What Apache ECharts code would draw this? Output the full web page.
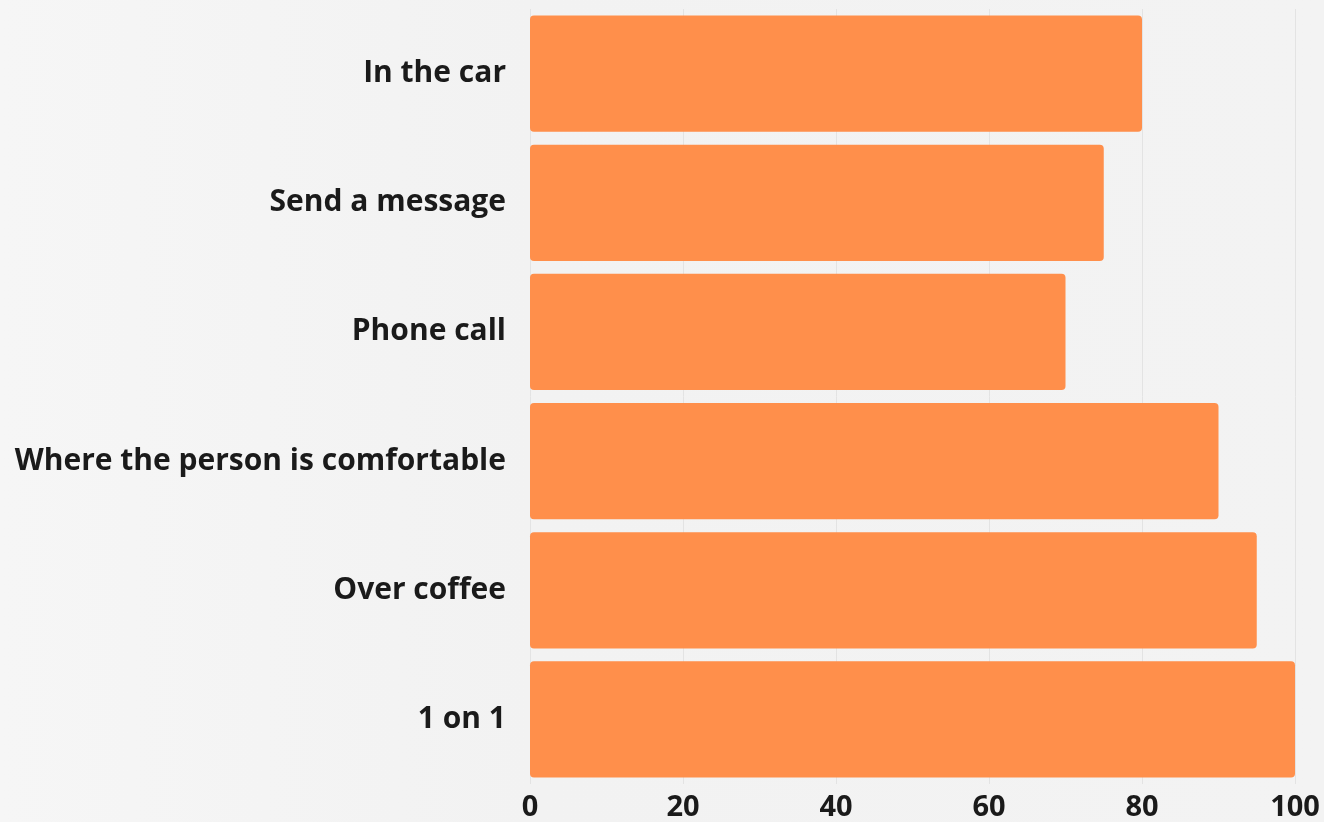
<!DOCTYPE html>
<html><head><meta charset="utf-8">
<script src="https://cdn.jsdelivr.net/npm/echarts@6/dist/echarts.min.js"></script>
<style>html,body{margin:0;padding:0;}#c{width:1324px;height:822px;background:linear-gradient(90deg,#f6f6f6 0%,#f2f2f2 40%,#f3f3f3 100%);}</style>
</head><body><div id="c"></div>
<script>
const categories = ["1 on 1","Over coffee","Where the person is comfortable","Phone call","Send a message","In the car"];
const values = [100,95,90,70,75,80];
const xTicks = [0,20,40,60,80,100];
const chart = echarts.init(document.getElementById('c'));
chart.setOption({
  backgroundColor: 'transparent',
  grid: {left: 530, right: 29, top: 9, bottom: 38, containLabel: false},
  xAxis: {type: 'value', min: xTicks[0], max: xTicks[xTicks.length-1], interval: 20,
    axisLine: {show: false}, axisTick: {show: false},
    splitLine: {show: true, lineStyle: {color: '#e3e3e3', width: 1}},
    axisLabel: {color: '#1a1a1a', fontFamily: 'Open Sans', fontWeight: 'bold', fontSize: 29, margin: 9}},
  yAxis: {type: 'category', data: categories,
    axisLine: {show: false}, axisTick: {show: false},
    axisLabel: {color: '#1a1a1a', fontFamily: 'Open Sans', fontWeight: 'bold', fontSize: 30, margin: 24}},
  series: [{type: 'bar', data: values, barCategoryGap: '10%',
    itemStyle: {color: '#FF8F4B', borderRadius: 4}}]
});
</script></body></html>
